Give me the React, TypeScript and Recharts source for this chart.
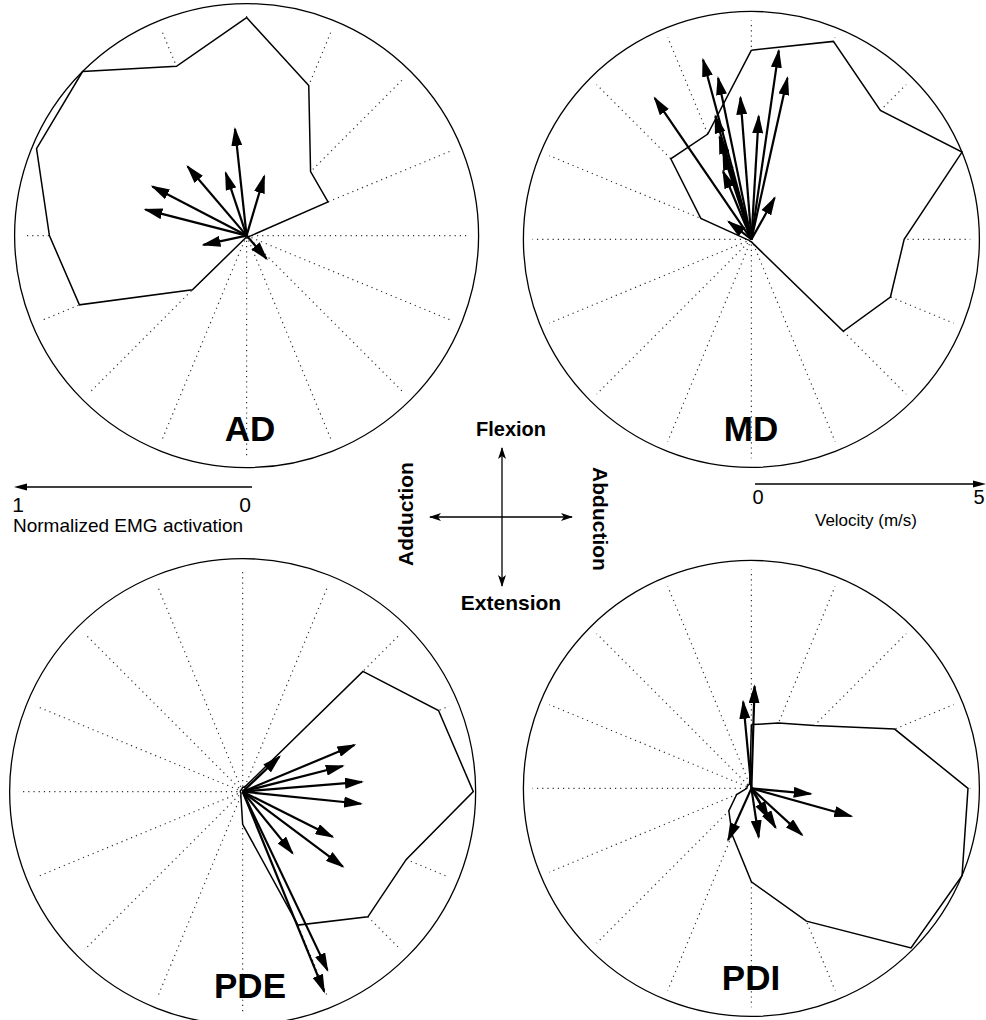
import React from "react";
import { ReferenceDot, Scatter, ScatterChart, XAxis, YAxis } from "recharts";

// 16 movement directions, degrees clockwise from flexion (up)
const directions = [0, 22.5, 45, 67.5, 90, 112.5, 135, 157.5, 180, 202.5, 225, 247.5, 270, 292.5, 315, 337.5];

// normalized EMG activation (0..1) for each direction
const adActivation = [0.94, 0.7, 0.39, 0.38, 0.02, 0.01, 0.01, 0.01, 0.01, 0.01, 0.33, 0.78, 0.85, 0.98, 1.0, 0.79];
const mdActivation = [0.83, 0.94, 0.8, 1.0, 0.67, 0.66, 0.57, 0.02, 0.01, 0.01, 0.01, 0.01, 0.02, 0.24, 0.5, 0.5];
const pdeActivation = [0.02, 0.02, 0.73, 0.91, 0.99, 0.76, 0.76, 0.62, 0.14, 0.02, 0.01, 0.01, 0.01, 0.01, 0.01, 0.01];
const pdiActivation = [0.28, 0.31, 0.39, 0.68, 0.95, 1.0, 0.99, 0.63, 0.41, 0.22, 0.14, 0.07, 0.02, 0.02, 0.02, 0.02];

// velocity vectors (m/s): abd = abduction component, flex = flexion component
const adVelocity = [
  { abd: -0.25, flex: 2.3 }, { abd: -1.27, flex: 1.49 }, { abd: -0.45, flex: 1.35 }, { abd: 0.38, flex: 1.28 },
  { abd: -2.03, flex: 1.06 }, { abd: -2.18, flex: 0.56 }, { abd: -0.93, flex: -0.2 }, { abd: 0.43, flex: -0.5 },
];
const mdVelocity = [
  { abd: -2.12, flex: 3.1 }, { abd: -1.06, flex: 3.94 }, { abd: -0.73, flex: 3.54 }, { abd: 0.6, flex: 4.14 },
  { abd: 0.79, flex: 3.54 }, { abd: -0.24, flex: 3.11 }, { abd: 0.16, flex: 2.7 }, { abd: -0.79, flex: 2.7 },
  { abd: -0.7, flex: 2.25 }, { abd: -0.62, flex: 1.89 }, { abd: -0.62, flex: 1.49 }, { abd: 0.51, flex: 0.91 },
  { abd: -0.5, flex: 0.39 },
];
const pdeVelocity = [
  { abd: 0.79, flex: 0.75 }, { abd: 2.4, flex: 1.0 }, { abd: 2.15, flex: 0.55 }, { abd: 2.56, flex: 0.21 },
  { abd: 2.54, flex: -0.26 }, { abd: 1.93, flex: -0.97 }, { abd: 2.15, flex: -1.61 }, { abd: 1.07, flex: -1.32 },
  { abd: 1.82, flex: -3.83 }, { abd: 1.75, flex: -4.29 },
];
const pdiVelocity = [
  { abd: 0.07, flex: 2.24 }, { abd: -0.18, flex: 1.9 }, { abd: 1.3, flex: -0.12 }, { abd: 2.19, flex: -0.61 },
  { abd: -0.51, flex: -1.13 }, { abd: 0.16, flex: -1.07 }, { abd: 0.38, flex: -0.66 }, { abd: 0.53, flex: -0.86 },
  { abd: 1.11, flex: -1.02 },
];

const MAX_SPEED = 5;
const SPAN = 1.05;
const FONT = "'Liberation Sans', Arial, Helvetica, sans-serif";

const panels = [
  { id: "ad", name: "AD", cx: 247, cy: 236, r: 232, labelX: 250, activation: adActivation, velocity: adVelocity },
  { id: "md", name: "MD", cx: 751, cy: 239, r: 228, labelX: 751, activation: mdActivation, velocity: mdVelocity },
  { id: "pde", name: "PDE", cx: 243, cy: 792, r: 233, labelX: 250, activation: pdeActivation, velocity: pdeVelocity },
  { id: "pdi", name: "PDI", cx: 751, cy: 788, r: 228, labelX: 751, activation: pdiActivation, velocity: pdiVelocity },
];

const toXY = (deg: number, r: number) => ({
  x: r * Math.sin((deg * Math.PI) / 180),
  y: r * Math.cos((deg * Math.PI) / 180),
});

const Nothing = () => <g />;

function PolarPanel({ id, cx, cy, r, activation, velocity }: any) {
  const size = 2 * SPAN * r;
  const outline = directions.map((d, i) => toXY(d, activation[i]));
  outline.push(outline[0]);

  return (
    <div style={{ position: "absolute", left: cx - size / 2, top: cy - size / 2 }}>
      <ScatterChart width={size} height={size} margin={{ top: 0, right: 0, bottom: 0, left: 0 }}>
        <defs>
          <marker id={`head-${id}`} markerUnits="userSpaceOnUse" markerWidth={19} markerHeight={11}
            refX={17} refY={5.5} orient="auto">
            <path d="M0,0 L19,5.5 L0,11 Z" fill="#000" />
          </marker>
        </defs>
        <XAxis type="number" dataKey="x" domain={[-SPAN, SPAN]} allowDataOverflow hide />
        <YAxis type="number" dataKey="y" domain={[-SPAN, SPAN]} allowDataOverflow hide />
        {directions.map((d) => (
          <Scatter key={`spoke-${d}`} data={[toXY(d, 0), toXY(d, 0.96)]} shape={Nothing}
            line={{ stroke: "#333", strokeWidth: 1.2, strokeDasharray: "1.2 4" }} isAnimationActive={false} />
        ))}
        <Scatter data={outline} shape={Nothing}
          line={{ stroke: "#000", strokeWidth: 1.5, fill: "#fff" }} isAnimationActive={false} />
        <ReferenceDot x={0} y={0} r={r} fill="none" stroke="#000" strokeWidth={1.3} />
        {velocity.map((v: any, i: number) => (
          <Scatter key={`vel-${i}`} data={[{ x: 0, y: 0 }, { x: v.abd / MAX_SPEED, y: v.flex / MAX_SPEED }]}
            shape={Nothing} isAnimationActive={false}
            line={{ stroke: "#000", strokeWidth: 2.2, markerEnd: `url(#head-${id})` }} />
        ))}
      </ScatterChart>
    </div>
  );
}

export default function App() {
  return (
    <div style={{ position: "absolute", left: 0, top: 0, width: 986, height: 1020, background: "#fff", overflow: "hidden" }}>
      {panels.map((p) => (
        <PolarPanel key={p.id} {...p} />
      ))}
      <svg width={986} height={1020} style={{ position: "absolute", left: 0, top: 0, pointerEvents: "none" }}
        fontFamily={FONT}>
        {panels.map((p) => (
          <text key={p.id} x={p.labelX} y={p.cy + 0.885 * p.r} textAnchor="middle" fontSize={35} fontWeight="bold">
            {p.name}
          </text>
        ))}

        {/* direction key */}
        <g stroke="#000" strokeWidth={1.3}>
          <line x1={502} y1={448} x2={502} y2={586} />
          <line x1={430} y1={517} x2={572} y2={517} />
        </g>
        <g fill="#000">
          <path d="M502,447 L498,459 L502,456 L506,459 Z" />
          <path d="M502,587 L498,575 L502,578 L506,575 Z" />
          <path d="M429,517 L441,513 L438,517 L441,521 Z" />
          <path d="M573,517 L561,513 L564,517 L561,521 Z" />
        </g>
        <text x={511} y={436} textAnchor="middle" fontSize={20} fontWeight="bold">Flexion</text>
        <text x={511} y={610} textAnchor="middle" fontSize={21} fontWeight="bold">Extension</text>
        <text transform="translate(413,514) rotate(-90)" textAnchor="middle" fontSize={21} fontWeight="bold">Adduction</text>
        <text transform="translate(593,519) rotate(90)" textAnchor="middle" fontSize={21} fontWeight="bold">Abduction</text>

        {/* EMG scale */}
        <line x1={22} y1={487} x2={252} y2={487} stroke="#000" strokeWidth={1.3} />
        <path d="M14,487 L27,483.5 L27,490.5 Z" fill="#000" />
        <text x={18} y={512} textAnchor="middle" fontSize={21}>1</text>
        <text x={245} y={512} textAnchor="middle" fontSize={21}>0</text>
        <text x={13} y={532} fontSize={19}>Normalized EMG activation</text>

        {/* velocity scale */}
        <line x1={755} y1={484} x2={978} y2={484} stroke="#000" strokeWidth={1.3} />
        <path d="M986,484 L973,480.5 L973,487.5 Z" fill="#000" />
        <text x={758} y={504} textAnchor="middle" fontSize={20}>0</text>
        <text x={979} y={504} textAnchor="middle" fontSize={20}>5</text>
        <text x={866} y={526} textAnchor="middle" fontSize={17}>Velocity (m/s)</text>
      </svg>
    </div>
  );
}
